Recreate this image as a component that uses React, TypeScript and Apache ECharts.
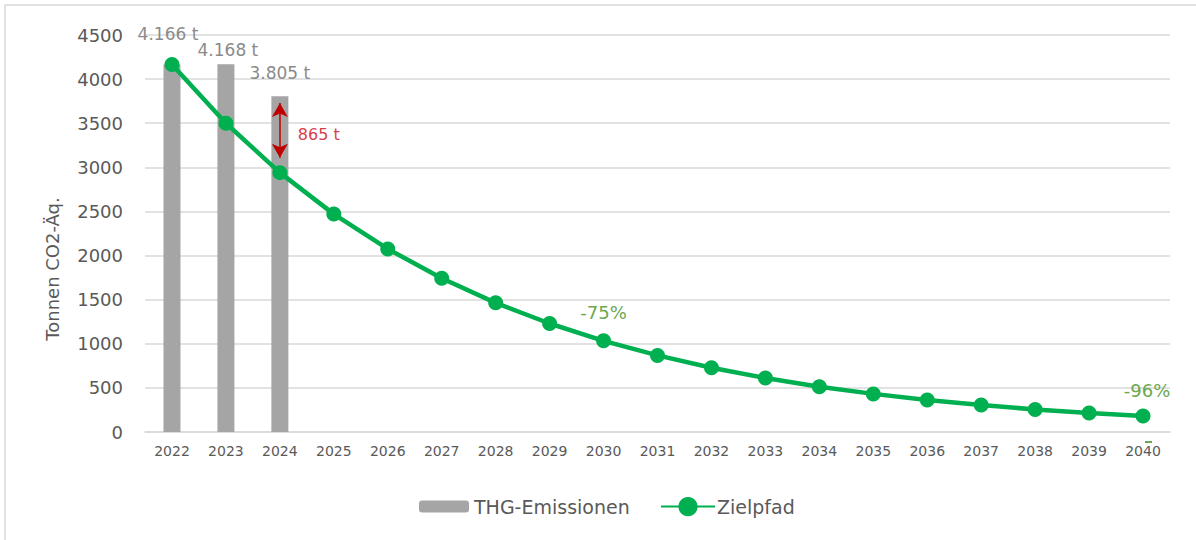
import { useEffect, useRef } from "react";
import * as echarts from "echarts";

const years = [
  "2022", "2023", "2024", "2025", "2026", "2027", "2028", "2029", "2030", "2031",
  "2032", "2033", "2034", "2035", "2036", "2037", "2038", "2039", "2040",
];
const emissions = [4166, 4168, 3805];
const emissionLabels = ["4.166 t", "4.168 t", "3.805 t"];
const target = [
  4166, 3500, 2940, 2470, 2075, 1743, 1464, 1230, 1033, 868, 729, 612, 514, 432, 363, 305, 256, 215, 181,
];
const gapLabel = "865 t";
const gapYear = "2024";
const arrowTop = 3730;
const arrowBottom = 3110;
const gapLabelValue = 3370;
const pct2030 = { year: "2030", text: "-75%", value: 1360 };
const pct2040 = { year: "2040", text: "-96%", value: 465 };
const yTicks = { min: 0, max: 4500, interval: 500 };

const FONT = "DejaVu Sans";

export default function App() {
  const ref = useRef<HTMLDivElement>(null);
  useEffect(() => {
    document.body.style.margin = "0";
    if (!ref.current) return;
    const chart = echarts.init(ref.current, undefined, { renderer: "svg" });
    const labelDist = [22, 6, 15];
    const labelDx = [-4, 2, 0];
    chart.setOption({
      animation: false,
      backgroundColor: "#ffffff",
      textStyle: { fontFamily: FONT },
      grid: { left: 145, right: 26, top: 35, bottom: 108, containLabel: false },
      legend: [
        {
          top: 492,
          left: 414,
          itemWidth: 50,
          itemHeight: 12,
          textStyle: { fontFamily: FONT, fontSize: 19, color: "#595959" },
          data: ["THG-Emissionen"],
        },
        {
          top: 492,
          left: 655,
          itemWidth: 54,
          itemHeight: 24,
          textStyle: { fontFamily: FONT, fontSize: 19, color: "#595959", padding: [0, 0, 0, -3] },
          data: ["Zielpfad"],
        },
      ],
      xAxis: {
        type: "category",
        data: years,
        axisLine: { lineStyle: { color: "#d9d9d9", width: 1.5 } },
        axisTick: { show: false },
        axisLabel: { color: "#595959", fontFamily: FONT, fontSize: 14, margin: 12 },
      },
      yAxis: {
        type: "value",
        min: yTicks.min,
        max: yTicks.max,
        interval: yTicks.interval,
        name: "Tonnen CO2-Äq.",
        nameLocation: "middle",
        nameGap: 84,
        nameTextStyle: { color: "#595959", fontFamily: FONT, fontSize: 18, padding: [0, 71, 0, 0] },
        axisLine: { show: false },
        axisTick: { show: false },
        axisLabel: {
          color: "#595959",
          fontFamily: FONT,
          fontSize: 18,
          margin: 22,
          formatter: (v: number) => String(v),
        },
        splitLine: { lineStyle: { color: "#d9d9d9", width: 1.5 } },
      },
      series: [
        {
          name: "THG-Emissionen",
          type: "bar",
          barWidth: 17,
          itemStyle: { color: "#a5a5a5" },
          data: emissions.map((v, i) => ({
            value: v,
            label: {
              show: true,
              position: "top",
              distance: labelDist[i],
              offset: [labelDx[i], 0],
              formatter: emissionLabels[i],
              color: "#8a8a8a",
              fontFamily: FONT,
              fontSize: 17,
            },
          })),
          markLine: {
            silent: true,
            symbol: ["arrow", "arrow"],
            symbolSize: [12, 14],
            label: { show: false },
            lineStyle: { color: "#c00000", width: 1.5, type: "solid" },
            data: [[{ coord: [gapYear, arrowTop] }, { coord: [gapYear, arrowBottom] }]],
          },
          markPoint: {
            silent: true,
            symbol: "circle",
            symbolSize: 0,
            data: [
              {
                coord: [gapYear, gapLabelValue],
                label: {
                  show: true,
                  position: "right",
                  distance: 18,
                  formatter: gapLabel,
                  color: "#d9404a",
                  fontFamily: FONT,
                  fontSize: 16,
                },
              },
            ],
          },
        },
        {
          name: "Zielpfad",
          type: "line",
          data: target,
          symbol: "circle",
          symbolSize: 15,
          lineStyle: { color: "#00b050", width: 4.5 },
          itemStyle: { color: "#00b050" },
          z: 3,
          markPoint: {
            silent: true,
            symbol: "circle",
            symbolSize: 0,
            data: [
              {
                coord: [pct2030.year, pct2030.value],
                label: {
                  show: true,
                  position: "inside",
                  formatter: pct2030.text,
                  color: "#6aa84f",
                  fontFamily: FONT,
                  fontSize: 18,
                },
              },
              {
                coord: [pct2040.year, pct2040.value],
                label: {
                  show: true,
                  position: "inside",
                  offset: [4, 0],
                  formatter: pct2040.text,
                  color: "#6aa84f",
                  fontFamily: FONT,
                  fontSize: 18,
                },
              },
            ],
          },
        },
      ],
    });
    const p = chart.convertToPixel({ xAxisIndex: 0, yAxisIndex: 0 }, [pct2040.year, 0]) as number[];
    chart.setOption({
      graphic: [
        {
          type: "rect",
          shape: { x: 5, y: 5, width: 1300, height: 700 },
          style: { fill: "none", stroke: "#d9d9d9", lineWidth: 1.5 },
          silent: true,
        },
        {
          type: "line",
          shape: { x1: p[0] + 2, y1: p[1] + 10, x2: p[0] + 9, y2: p[1] + 10 },
          style: { stroke: "#6aa84f", lineWidth: 2 },
          silent: true,
        },
      ],
    });
    return () => chart.dispose();
  }, []);
  return <div ref={ref} style={{ width: 1196, height: 540 }} />;
}
